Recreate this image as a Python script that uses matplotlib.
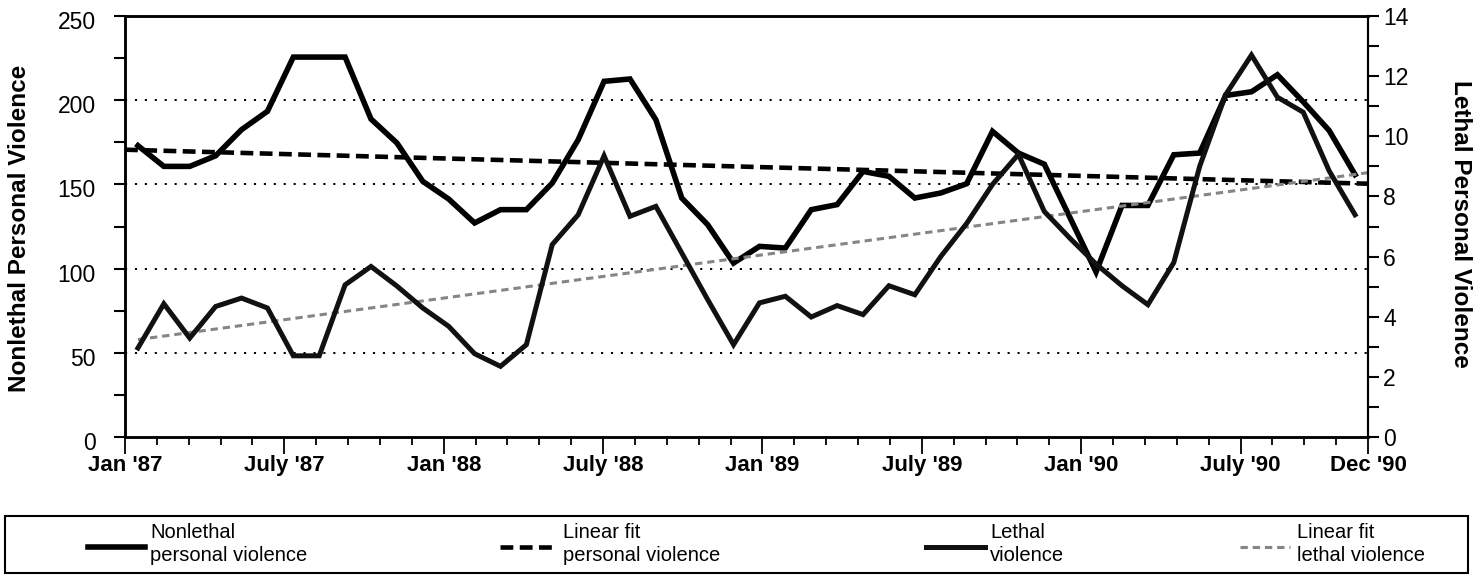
import matplotlib
matplotlib.use("Agg")
import matplotlib.pyplot as plt
import numpy as np
from matplotlib.lines import Line2D
from matplotlib.patches import Rectangle
from matplotlib.transforms import ScaledTranslation

plt.rcParams['font.family'] = ['Liberation Sans', 'DejaVu Sans']

# ---------------- data (monthly, Jan 1987 .. Dec 1990) ----------------
nonlethal = [173.0, 160.7, 160.7, 167.0, 182.5, 193.4, 225.6, 225.6, 225.6, 188.8, 174.6, 151.8,
             141.3, 127.1, 135.0, 135.0, 150.8, 176.5, 211.2, 212.6, 188.4, 141.9, 126.1, 103.3,
             113.2, 112.2, 135.0, 138.0, 157.7, 154.8, 141.9, 144.9, 150.4, 181.5, 168.6, 162.0,
             130.0, 98.0, 137.5, 137.5, 167.6, 168.6, 202.8, 205.0, 215.1, 199.0, 182.0, 155.8]
lethal = [2.96, 4.43, 3.29, 4.34, 4.62, 4.29, 2.70, 2.70, 5.06, 5.67, 5.02, 4.29,
          3.68, 2.77, 2.35, 3.07, 6.40, 7.39, 9.35, 7.34, 7.67, 6.12, 4.57, 3.07,
          4.46, 4.68, 3.99, 4.37, 4.07, 5.03, 4.73, 6.00, 7.10, 8.40, 9.40, 7.50,
          6.60, 5.75, 5.03, 4.40, 5.80, 9.00, 11.38, 12.70, 11.30, 10.80, 8.85, 7.39]
nonlethal_fit_ends = [170.6, 150.4]   # trend line value at axis start / axis end
lethal_fit_ends = [3.24, 8.79]        # trend line value at first month / axis end
x_labels = ["Jan '87", "July '87", "Jan '88", "July '88", "Jan '89",
            "July '89", "Jan '90", "July '90", "Dec '90"]
left_ticks = [0, 50, 100, 150, 200, 250]
right_ticks = [0, 2, 4, 6, 8, 10, 12, 14]
grid_values = [50, 100, 150, 200]
legend_labels = ["Nonlethal\npersonal violence", "Linear fit\npersonal violence",
                 "Lethal\nviolence", "Linear fit\nlethal violence"]

W, H = 1476, 576
fig = plt.figure(figsize=(W / 100, H / 100), dpi=100)
ax = fig.add_axes([125 / W, 1 - 437 / H, 1243 / W, 421 / H])
ax2 = ax.twinx()

n = len(nonlethal)
x = np.arange(n) + 0.5
ax.set_xlim(0, n)
ax.set_ylim(0, 250)
ax2.set_ylim(0, 14)

# grid
for g in grid_values:
    ax.axhline(g, color='black', lw=1.4, dashes=(1.1, 4.0), zorder=1)

# series
ax.plot(x, nonlethal, color='black', lw=4.0, solid_joinstyle='miter', zorder=3)
ax.plot([0, n], nonlethal_fit_ends, color='black', lw=3.3, dashes=(2.8, 1.4), zorder=2)
ax2.plot(x, lethal, color='#111111', lw=3.6, solid_joinstyle='miter', zorder=3)
ax2.plot([x[0], n], lethal_fit_ends, color='#858585', lw=2.2, dashes=(2.4, 1.6), zorder=2)

# x ticks: 39 intervals, labels every 5th
step = n / 39
minor_pos = np.arange(40) * step
major_idx = [0, 5, 10, 15, 20, 25, 30, 35, 39]
ax.set_xticks(minor_pos[major_idx])
ax.set_xticklabels(x_labels, fontsize=16, fontweight='bold')
ax.set_xticks(minor_pos, minor=True)
ax.tick_params(axis='x', which='major', direction='out', length=12, width=1.3, pad=1)
ax.tick_params(axis='x', which='minor', direction='out', length=5.5, width=1.3)

# left y
ax.set_yticks(left_ticks)
ax.set_yticklabels([str(v) for v in left_ticks], fontsize=16.5)
ax.set_yticks(np.arange(0, 251, 25), minor=True)
ax.tick_params(axis='y', which='both', direction='out', length=8, width=1.5, pad=13)
off = ScaledTranslation(0, -4 / 100, fig.dpi_scale_trans)
for lab in ax.get_yticklabels():
    lab.set_transform(lab.get_transform() + off)

# right y
ax2.set_yticks(right_ticks)
ax2.set_yticklabels([str(v) for v in right_ticks], fontsize=16.5)
ax2.set_yticks(np.arange(0, 15, 1), minor=True)
ax2.tick_params(axis='y', which='both', direction='out', length=8, width=1.5, pad=3)

for a in (ax, ax2):
    for s in a.spines.values():
        s.set_linewidth(1.8)
    a.spines['right'].set_linewidth(1.5)

# axis titles
fig.text(20 / W, 1 - 228 / H, "Nonlethal Personal Violence", rotation=90,
         ha='center', va='center', fontsize=17.5, fontweight='bold')
fig.text(1461 / W, 1 - 224 / H, "Lethal Personal Violence", rotation=270,
         ha='center', va='center', fontsize=17.5, fontweight='bold')

# legend box
fig.add_artist(Rectangle((5 / W, 1 - 573 / H), 1463 / W, 57 / H, transform=fig.transFigure,
                         fill=False, lw=1.5, edgecolor='black'))
styles = [dict(color='black', lw=4.0),
          dict(color='black', lw=3.3, dashes=(2.8, 1.4)),
          dict(color='#111111', lw=3.6),
          dict(color='#858585', lw=2.2, dashes=(2.4, 1.6))]
sample_x = [(88, 145), (500, 557), (926, 985), (1240, 1290)]
text_x = [150, 563, 990, 1297]
for (x0, x1), tx, st, lab in zip(sample_x, text_x, styles, legend_labels):
    fig.add_artist(Line2D([x0 / W, x1 / W], [1 - 547 / H] * 2, transform=fig.transFigure, **st))
    fig.text(tx / W, 1 - 544 / H, lab, ha='left', va='center', fontsize=14.5, linespacing=1.3)

fig.savefig("out.png", dpi=100)
